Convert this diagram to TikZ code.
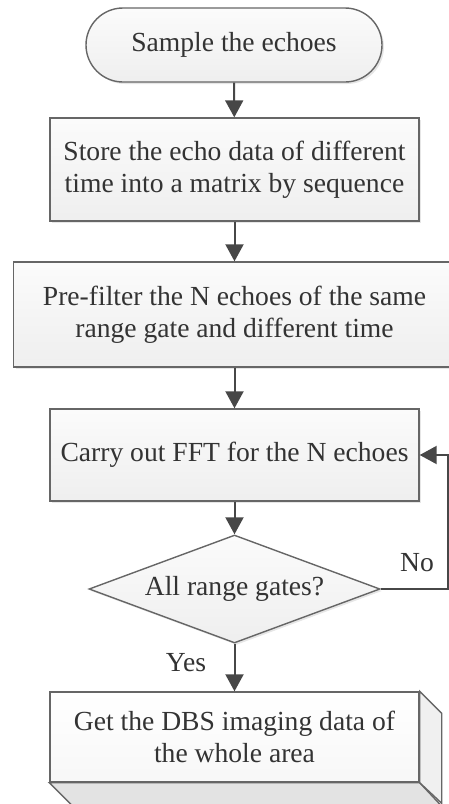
\documentclass[tikz,border=0pt]{standalone}
\usepackage{fontspec}
\setmainfont{Liberation Serif}
\usepackage{tikz}
\usetikzlibrary{arrows.meta, positioning, shapes.geometric, shadows}

\begin{document}
\begin{tikzpicture}[x=0.5pt, y=-0.5pt,
            every node/.style={font=\fontsize{13.8}{16}\selectfont, text=black!80, align=center, inner sep=0pt},
            process/.style={draw=black!60, line width=0.7pt, top color=gray!3, bottom color=gray!13,
                minimum width=184.5pt, drop shadow={shadow xshift=1pt, shadow yshift=-1pt, opacity=0.2}},
            terminal/.style={process, minimum width=148pt, minimum height=37pt, rounded corners=18.5pt},
            decision/.style={process, diamond, minimum width=145.5pt, minimum height=54pt, aspect=2.7},
            face/.style={draw=black!60, line width=0.7pt},
            label/.style={fill=none, draw=none},
            flow/.style={draw=black!72, line width=1pt, -{Triangle[width=9pt, length=8.5pt]}},
        ]
        \useasboundingbox (0,0) rectangle (449,804);

        \node[terminal] (start) at (234,45) {Sample the echoes};
        \node[process, minimum height=51.5pt] (store) at (234.5,169.5)
            {Store the echo data of different\\time into a matrix by sequence};
        \node[process, minimum width=221pt, minimum height=52.5pt] (prefilter) at (234.5,314.5)
            {Pre-filter the N echoes of the same\\range gate and different time};
        \node[process, minimum height=46pt] (fft) at (234.5,455) {Carry out FFT for the N echoes};
        \node[decision] (gates) at (234.5,589) {All range gates?};

        % 3D box for the result
        \node[process, top color=white, bottom color=gray!6, drop shadow={opacity=0}, minimum height=45pt] (result) at (234.5,737)
            {Get the DBS imaging data of\\the whole area};
        \draw[face, fill=gray!22] (result.south west) -- ++(22,22) -- ++(369,0) -- (result.south east) -- cycle;
        \draw[face, fill=gray!12] (result.north east) -- ++(22,22) -- ++(0,90) -- (result.south east) -- cycle;

        \node[label] (no) at (417,563) {No};
        \node[label] (yes) at (186,663) {Yes};

        \draw[flow] (start) -- (store);
        \draw[flow] (store) -- (prefilter);
        \draw[flow] (prefilter) -- (fft);
        \draw[flow] (fft) -- (gates);
        \draw[flow] (gates) -- (result);
        \draw[flow] (gates.east) -- ++(67,0) |- (fft.east);
\end{tikzpicture}
\end{document}
